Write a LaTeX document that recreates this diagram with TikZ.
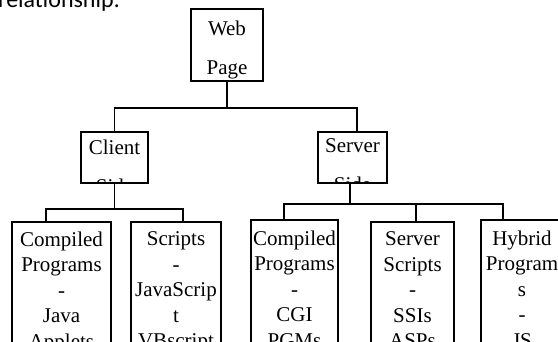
\documentclass[tikz,border=0pt]{standalone}
\usepackage{fontspec}
\setmainfont{Liberation Serif}
\newfontfamily\bodyfont{Carlito}
\usetikzlibrary{positioning}
\tikzset{%
  x=1pt,y=1pt,
  line/.style  = {draw, line width=1.6pt},
  block/.style = {rectangle, draw, line width=1.6pt, inner sep=0pt},
  lbl/.style   = {draw=none, inner sep=0pt, minimum width=0pt, minimum height=0pt, align=center},
  toptxt/.style = {lbl, font=\fontsize{21}{39}\selectfont},
  leaftxt/.style = {lbl, font=\fontsize{21}{25.5}\selectfont},
  % text clipped by the box
  boxtext/.style n args={3}{path picture={%
      \node[#1, anchor=north] at ([yshift=-#2pt]path picture bounding box.north) {#3};}},
  top/.style  = {block, minimum height=51pt},
  leaf/.style = {block, anchor=north, minimum height=150pt}
}
\begin{document}
\begin{tikzpicture}
\useasboundingbox (0,0) rectangle (558,341);
\clip (0,0) rectangle (558,341);

\node[anchor=base west, inner sep=0pt, font=\bodyfont\fontsize{24}{29}\selectfont] (caption) at (-2,334) {relationship:};

\node[block, minimum width=72pt, minimum height=72pt,
  boxtext={toptxt}{11}{Web\\Page}] (web) at (227,296) {};

\node[top, minimum width=67pt, boxtext={toptxt}{7}{Client\\Side}] (client) at (114.5,183.5) {};
\node[top, minimum width=69pt, boxtext={toptxt}{6}{Server\\Side}] (server) at (352.5,183.5) {};

\node[leaf, minimum width=99pt, boxtext={leaftxt}{9}{Compiled\\Programs\\-\\Java\\Applets}] (compiled1) at (61.5,120) {};
\node[leaf, minimum width=90pt, boxtext={leaftxt}{9}{Scripts\\-\\JavaScrip\\t\\VBscript}] (scripts) at (176,120) {};
\node[leaf, minimum width=87pt, boxtext={leaftxt}{10}{Compiled\\Programs\\-\\CGI\\PGMs}] (compiled2) at (294.5,122) {};
\node[leaf, minimum width=83pt, boxtext={leaftxt}{9}{Server\\Scripts\\-\\SSIs\\ASPs}] (sscripts) at (412.5,120) {};
\node[leaf, minimum width=82pt, boxtext={leaftxt}{10}{Hybrid\\Program\\s\\-\\JS}] (hybrid) at (522,122) {};

\draw[line] (web.south) -- ++(0,-26) coordinate (websplit) -| (client.north);
\draw[line] (websplit) -| ([xshift=4.5pt]server.north);

\draw[line] (client.south) -- ++(0,-25) coordinate (clientsplit) -| ([xshift=-15.5pt]compiled1.north);
\draw[line] (clientsplit) -| ([xshift=7pt]scripts.north);

\draw[line] ([xshift=-2.5pt]server.south) -- ++(0,-20) coordinate (serversplit) -| ([xshift=-10.5pt]compiled2.north);
\draw[line] (serversplit) -| ([xshift=3.5pt]sscripts.north);
\draw[line] (serversplit) -| ([xshift=-19pt]hybrid.north);
\end{tikzpicture}
\end{document}
